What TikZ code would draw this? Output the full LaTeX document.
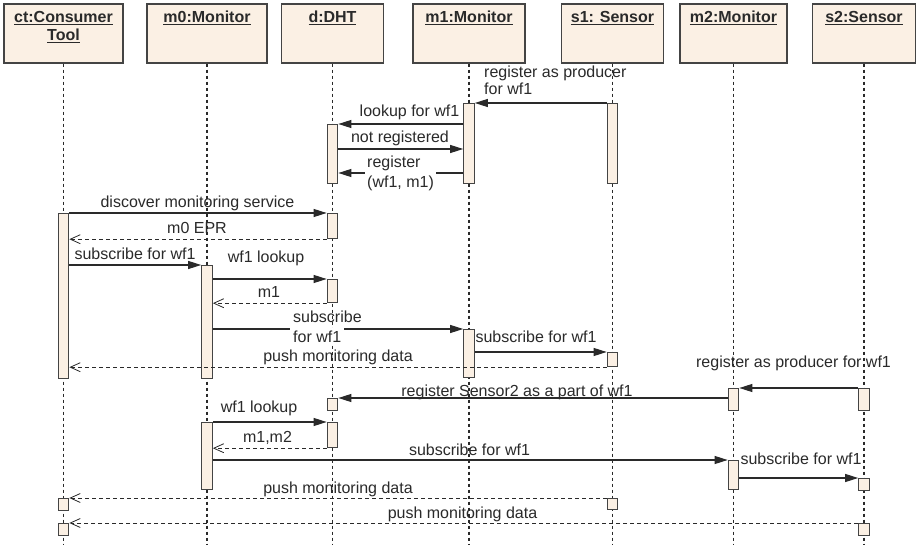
\documentclass[tikz,border=0pt]{standalone}
\usepackage{fontspec}
\setmainfont{Liberation Sans}
\usetikzlibrary{arrows.meta}
\definecolor{boxfill}{HTML}{FBF0E4}
\definecolor{ink}{HTML}{2A2A2A}
\definecolor{edge}{HTML}{444444}
\newcommand{\lblfont}{\fontsize{16}{18}\selectfont}
\newcommand{\actbox}[4]{\node[act, minimum height=#4pt] (#1) at (#2,#3) {};}
\begin{document}
\begin{tikzpicture}[x=1pt,y=-1pt,
  head/.style={draw=edge, line width=1.3pt, fill=boxfill, inner sep=0pt, minimum height=59pt},
  htext/.style={font=\lblfont\bfseries, text=ink, inner sep=0pt},
  life/.style={draw=ink, line width=1.2pt, dash pattern=on 3pt off 3pt},
  act/.style={draw=edge, line width=1.2pt, fill=boxfill, inner sep=0pt, minimum width=10.5pt, anchor=north},
  msg/.style={draw=ink, line width=1.1pt, -{Triangle[length=13pt,width=8pt]}},
  ret/.style={draw=ink, line width=0.9pt, dash pattern=on 4pt off 3pt, -{Straight Barb[length=10pt,width=9pt,line width=0.8pt]}},
  lbl/.style={font=\lblfont, text=ink, inner sep=0pt}]
\useasboundingbox (0,0) rectangle (916,545);
\fill[white] (0,0) rectangle (916,545);
% heads
\node[head, minimum width=119pt] (ct) at (63.5,33.5) {};
\node[head, minimum width=120pt] (m0) at (207,33.5) {};
\node[head, minimum width=102pt] (d) at (332.5,33.5) {};
\node[head, minimum width=112pt] (m1) at (469,33.5) {};
\node[head, minimum width=102pt] (s1) at (612.5,33.5) {};
\node[head, minimum width=107pt] (m2) at (733.5,33.5) {};
\node[head, minimum width=103pt] (s2) at (864,33.5) {};
\node[htext, align=center, anchor=north, font=\fontsize{16}{18.5}\selectfont\bfseries] (ctT) at (63.5,10.9) {\underline{ct:Consumer}\\\underline{Tool}};
\node[htext, anchor=base] (m0T) at (207,22.5) {\underline{m0:Monitor}};
\node[htext, anchor=base] (dT) at (332.5,22.5) {\underline{d:DHT}};
\node[htext, anchor=base] (m1T) at (469,22.5) {\underline{m1:Monitor}};
\node[htext, anchor=base] (s1T) at (612.5,22.5) {\underline{s1: Sensor}};
\node[htext, anchor=base] (m2T) at (733.5,22.5) {\underline{m2:Monitor}};
\node[htext, anchor=base] (s2T) at (864,22.5) {\underline{s2:Sensor}};
% lifelines
\coordinate (bot) at (0,545);
\foreach \h in {ct,m0,d,m1,s1,m2,s2}{\draw[life] (\h.south) -- (\h.south |- bot);}
% activations
\actbox{m1A}{469}{103}{80}
\actbox{s1A}{612.5}{103}{80}
\actbox{dA1}{332.5}{124}{59}
\actbox{ctA1}{63.5}{213}{165}
\actbox{dA2}{332.5}{213}{25}
\actbox{m0A1}{207}{265}{113}
\actbox{dA3}{332.5}{279}{23}
\actbox{m1A2}{469}{329}{48}
\actbox{s1A2}{612.5}{352}{14}
\actbox{m2A1}{733.5}{388}{22}
\actbox{s2A1}{864}{388}{22}
\actbox{dA4}{332.5}{398}{12}
\actbox{m0A2}{207}{422}{67}
\actbox{dA5}{332.5}{422}{25}
\actbox{m2A2}{733.5}{460}{29}
\actbox{s2A2}{864}{478}{12}
\actbox{s1A3}{612.5}{498}{11}
\actbox{ctA2}{63.5}{498}{12}
\actbox{ctA3}{63.5}{523}{12}
\actbox{s2A3}{864}{523}{12}
% messages
\coordinate (y3) at (0,149);
\coordinate (y4) at (0,173);
\draw[msg] (s1A.north west) -- (m1A.north east);
\draw[msg] (m1A.west |- dA1.north) -- (dA1.north east);
\draw[msg] (dA1.east |- y3) -- (m1A.west |- y3);
\draw[msg] (m1A.west |- y4) -- (dA1.east |- y4);
\draw[msg] (ctA1.north east) -- (dA2.north west);
\draw[ret] (dA2.south west) -- (ctA1.east |- dA2.south);
\draw[msg] (ctA1.east |- m0A1.north) -- (m0A1.north west);
\draw[msg] (m0A1.east |- dA3.north) -- (dA3.north west);
\draw[ret] (dA3.south west) -- (m0A1.east |- dA3.south);
\draw[msg] (m0A1.east |- m1A2.north) -- (m1A2.north west);
\draw[msg] (m1A2.east |- s1A2.north) -- (s1A2.north west);
\draw[ret] (s1A2.south west) -- (ctA1.east |- s1A2.south);
\draw[msg] (s2A1.north west) -- (m2A1.north east);
\draw[msg] (m2A1.west |- dA4.north) -- (dA4.north east);
\draw[msg] (m0A2.north east) -- (dA5.north west);
\draw[ret] (dA5.south west) -- (m0A2.east |- dA5.south);
\draw[msg] (m0A2.east |- m2A2.north) -- (m2A2.north west);
\draw[msg] (m2A2.east |- s2A2.north) -- (s2A2.north west);
\draw[ret] (s1A3.north west) -- (ctA2.north east);
\draw[ret] (s2A3.north west) -- (ctA3.north east);
% labels
\node[lbl, align=left, anchor=north west, font=\fontsize{16}{17}\selectfont] (t1) at (484,65.3) {register as producer\\for wf1};
\node[lbl, anchor=base] (t2) at (409.5,117) {lookup for wf1};
\node[lbl, anchor=base] (t3) at (400,143) {not registered};
\node[lbl, align=left, anchor=north west, fill=white, inner sep=2pt, font=\fontsize{16}{20}\selectfont] (t4) at (365,153.5) {register\\(wf1, m1)};
\node[lbl, anchor=base] (t5) at (197.5,208) {discover monitoring service};
\node[lbl, anchor=base] (t6) at (197,234) {m0 EPR};
\node[lbl, anchor=base] (t7) at (135,260) {subscribe for wf1};
\node[lbl, anchor=base] (t8) at (266,263) {wf1 lookup};
\node[lbl, anchor=base] (t9) at (269,298) {m1};
\node[lbl, align=left, anchor=north west, font=\fontsize{16}{20}\selectfont] (t10) at (293,310.3) {subscribe\\\setlength{\fboxsep}{3pt}\hspace*{-3pt}\colorbox{white}{for wf1}};
\node[lbl, anchor=base] (t11) at (536,343) {subscribe for wf1};
\node[lbl, anchor=base] (t12) at (338,362) {push monitoring data};
\node[lbl, anchor=base] (t13) at (793.5,368) {register as producer for wf1};
\node[lbl, anchor=base] (t14) at (517,396) {register Sensor2 as a part of wf1};
\node[lbl, anchor=base] (t15) at (259,412) {wf1 lookup};
\node[lbl, anchor=base] (t16) at (267.5,442) {m1,m2};
\node[lbl, anchor=base] (t17) at (469.5,455) {subscribe for wf1};
\node[lbl, anchor=base] (t18) at (801,464) {subscribe for wf1};
\node[lbl, anchor=base] (t19) at (338,493) {push monitoring data};
\node[lbl, anchor=base] (t20) at (462.5,518) {push monitoring data};
\end{tikzpicture}
\end{document}
